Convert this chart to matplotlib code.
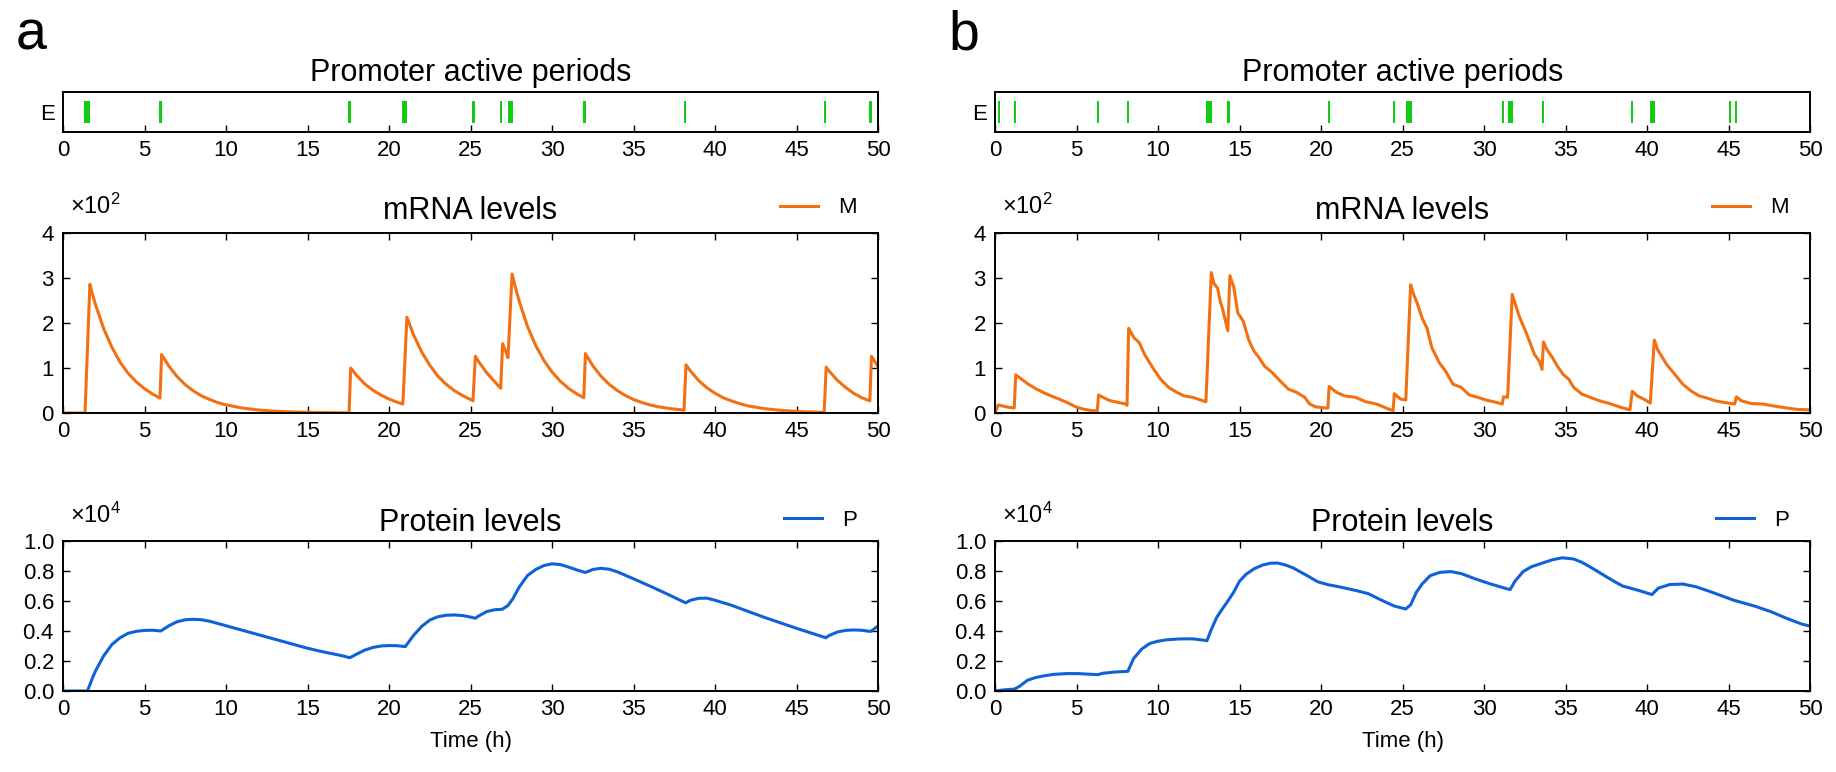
import numpy as np
import matplotlib
matplotlib.use("Agg")
import matplotlib.pyplot as plt
from matplotlib.ticker import ScalarFormatter

plt.rcParams['font.family'] = ['Liberation Sans', 'DejaVu Sans']
plt.rcParams['mathtext.fontset'] = 'custom'
plt.rcParams['mathtext.rm'] = 'Liberation Sans'
plt.rcParams['mathtext.default'] = 'regular'

# ---------------- data ----------------
# promoter active periods (start, end) in hours
prom_a_start = [1.30, 5.90, 17.50, 20.80, 25.12, 26.80, 27.28, 31.92, 38.07, 46.67, 49.47]
prom_a_end   = [1.67, 6.05, 17.65, 21.10, 25.30, 26.95, 27.58, 32.07, 38.22, 46.82, 49.62]
prom_b_start = [0.20, 1.18, 6.28, 8.08, 12.94, 14.25, 20.43, 24.44, 25.20, 31.12, 31.47, 33.57, 39.02, 40.20, 45.04, 45.40]
prom_b_end   = [0.33, 1.31, 6.41, 8.22, 13.33, 14.40, 20.56, 24.57, 25.60, 31.25, 31.80, 33.70, 39.15, 40.50, 45.17, 45.53]

# mRNA levels (x10^2)
t_mrna_a = [0, 1.35, 1.65, 1.8, 2.0, 2.5, 3.0, 3.5, 4.0, 4.5, 5.0, 5.5, 5.95,
            6.05, 6.5, 7.0, 7.5, 8.0, 8.5, 9.0, 9.5, 10.0, 11.0, 12.0, 13.0, 14.0, 15.0, 16.0, 17.0, 17.55,
            17.65, 18.0, 18.5, 19.0, 19.5, 20.0, 20.5, 20.85,
            21.1, 21.5, 22.0, 22.5, 23.0, 23.5, 24.0, 24.5, 25.0, 25.15,
            25.3, 25.5, 26.0, 26.5, 26.85,
            26.97, 27.15, 27.3,
            27.55, 27.75, 28.0, 28.5, 29.0, 29.5, 30.0, 30.5, 31.0, 31.5, 31.95,
            32.05, 32.5, 33.0, 33.5, 34.0, 34.5, 35.0, 35.5, 36.0, 36.5, 37.0, 37.5, 38.1,
            38.22, 38.5, 39.0, 39.5, 40.0, 40.5, 41.0, 41.5, 42.0, 43.0, 44.0, 45.0, 46.0, 46.7,
            46.82, 47.0, 47.5, 48.0, 48.5, 49.0, 49.5,
            49.6, 50.0]
mrna_a = [0, 0, 2.86, 2.65, 2.40, 1.87, 1.46, 1.13, 0.88, 0.69, 0.54, 0.42, 0.33,
          1.30, 1.04, 0.81, 0.63, 0.49, 0.38, 0.30, 0.23, 0.18, 0.11, 0.066, 0.040, 0.024, 0.015, 0.009, 0.005, 0.004,
          1.00, 0.84, 0.65, 0.51, 0.40, 0.31, 0.24, 0.20,
          2.13, 1.74, 1.36, 1.06, 0.82, 0.64, 0.50, 0.39, 0.30, 0.27,
          1.26, 1.14, 0.89, 0.69, 0.55,
          1.54, 1.38, 1.23,
          3.09, 2.80, 2.47, 1.92, 1.50, 1.17, 0.91, 0.71, 0.55, 0.43, 0.34,
          1.32, 1.05, 0.82, 0.64, 0.50, 0.39, 0.30, 0.235, 0.18, 0.14, 0.11, 0.087, 0.064,
          1.07, 0.93, 0.72, 0.56, 0.44, 0.34, 0.27, 0.21, 0.16, 0.098, 0.060, 0.036, 0.022, 0.016,
          1.02, 0.93, 0.73, 0.57, 0.44, 0.34, 0.27,
          1.26, 1.03]

t_mrna_b = [0, 0.2, 0.4, 0.8, 1.18, 1.27, 1.6, 2.0, 2.5, 3.0, 3.5, 4.0, 4.5, 5.0, 5.5, 6.0, 6.28,
            6.35, 6.5, 7.0, 7.5, 8.0, 8.1,
            8.2, 8.53, 8.86, 9.18, 9.67, 10.16, 10.65, 11.14, 11.6, 12.1, 12.6, 12.94,
            13.27, 13.43, 13.66, 13.8, 14.0, 14.28,
            14.41, 14.64, 14.9, 15.23, 15.56, 15.88, 16.2, 16.54, 17.0, 17.5, 18.0, 18.5, 19.0, 19.3, 19.65, 20.3, 20.42,
            20.5, 20.95, 21.44, 22.1, 22.75, 23.4, 23.9, 24.42,
            24.5, 24.87, 25.2,
            25.5, 25.7, 25.9, 26.2, 26.5, 26.8, 27.25, 27.64, 28.1, 28.6, 29.1, 29.6, 30.1, 30.6, 31.12,
            31.2, 31.45,
            31.73, 31.9, 32.2, 32.55, 32.9, 33.1, 33.4, 33.56,
            33.65, 33.86, 34.2, 34.5, 34.85, 35.2, 35.5, 36.0, 36.5, 37.1, 37.8, 38.4, 38.95,
            39.1, 39.4, 39.9, 40.2,
            40.45, 40.65, 40.9, 41.2, 41.7, 42.2, 42.7, 43.2, 43.7, 44.2, 44.65, 45.38,
            45.48, 45.8, 46.4, 47.1, 47.7, 48.6, 49.2, 50.0]
mrna_b = [0, 0.18, 0.16, 0.13, 0.11, 0.85, 0.76, 0.65, 0.54, 0.45, 0.37, 0.30, 0.22, 0.13, 0.08, 0.05, 0.05,
          0.40, 0.37, 0.28, 0.24, 0.20, 0.17,
          1.88, 1.67, 1.56, 1.30, 1.01, 0.75, 0.57, 0.46, 0.38, 0.35, 0.29, 0.25,
          3.12, 2.88, 2.77, 2.51, 2.26, 1.83,
          3.05, 2.81, 2.22, 2.04, 1.63, 1.38, 1.23, 1.04, 0.90, 0.71, 0.53, 0.46, 0.35, 0.20, 0.14, 0.11, 0.11,
          0.59, 0.46, 0.38, 0.35, 0.25, 0.20, 0.125, 0.05,
          0.43, 0.31, 0.29,
          2.85, 2.62, 2.44, 2.11, 1.89, 1.45, 1.12, 0.93, 0.64, 0.57, 0.40, 0.35, 0.29, 0.25, 0.20,
          0.36, 0.35,
          2.64, 2.44, 2.11, 1.82, 1.49, 1.30, 1.15, 0.97,
          1.58, 1.41, 1.23, 1.04, 0.86, 0.75, 0.57, 0.42, 0.35, 0.27, 0.20, 0.125, 0.07,
          0.48, 0.38, 0.29, 0.22,
          1.62, 1.41, 1.26, 1.08, 0.86, 0.64, 0.49, 0.38, 0.33, 0.27, 0.24, 0.20,
          0.36, 0.27, 0.21, 0.20, 0.16, 0.11, 0.08, 0.07]

# Protein levels (x10^4)
t_prot_a = [0, 1.5, 1.8, 2.0, 2.5, 3.0, 3.5, 4.0, 4.5, 5.0, 5.5,
            6.0, 6.5, 7.0, 7.5, 8.0, 8.5, 9.0, 10, 11, 12,
            13, 14, 15, 16, 17, 17.6, 18.0, 18.5, 19.0, 19.5,
            20.0, 20.5, 21.0, 21.5, 22.0, 22.5, 23.0, 23.5, 24.0, 24.5,
            25.0, 25.3, 25.5, 26.0, 26.5, 26.95, 27.3, 27.6, 28.0, 28.5,
            29.0, 29.5, 30.0, 30.5, 31.0, 31.5, 32.05, 32.5, 33.0, 33.5,
            34.0, 35, 36, 37, 38, 38.2, 38.5, 39.0, 39.5, 40.0,
            41, 42, 43, 44, 45, 46, 46.8, 47.0, 47.5, 48.0,
            48.5, 49.0, 49.55, 50.0]
prot_a = [0, 0, 0.085, 0.135, 0.235, 0.31, 0.355, 0.385, 0.398, 0.404, 0.405,
          0.40, 0.435, 0.462, 0.475, 0.478, 0.475, 0.465, 0.435, 0.405, 0.375,
          0.345, 0.315, 0.285, 0.26, 0.238, 0.222, 0.245, 0.272, 0.29, 0.30,
          0.303, 0.302, 0.296, 0.37, 0.43, 0.473, 0.495, 0.505, 0.507, 0.503,
          0.493, 0.485, 0.50, 0.53, 0.542, 0.545, 0.57, 0.615, 0.695, 0.77,
          0.81, 0.836, 0.848, 0.843, 0.827, 0.808, 0.79, 0.81, 0.818, 0.812,
          0.795, 0.748, 0.70, 0.65, 0.598, 0.588, 0.605, 0.618, 0.619, 0.605,
          0.572, 0.532, 0.492, 0.455, 0.418, 0.383, 0.355, 0.37, 0.393, 0.404,
          0.407, 0.405, 0.397, 0.433]

t_prot_b = [0, 0.5, 1.2, 1.5, 2.0, 2.5, 3.0, 3.6, 4.4, 5.1,
            5.75, 6.3, 6.6, 7.4, 8.15, 8.5, 9.0, 9.5, 10.0, 10.5,
            11.3, 12.1, 12.8, 13.0, 13.27, 13.6, 13.9, 14.25, 14.64, 15.0,
            15.4, 15.9, 16.4, 16.9, 17.35, 17.85, 18.3, 19.15, 19.8, 20.46,
            21.1, 22.1, 22.9, 23.7, 24.5, 25.2, 25.5, 25.85, 26.2, 26.7,
            27.3, 27.97, 28.6, 29.4, 30.3, 31.1, 31.6, 31.9, 32.4, 32.9,
            33.5, 34.2, 34.8, 35.5, 36.0, 36.5, 37.0, 37.5, 38.0, 38.5,
            39.0, 39.5, 40.3, 40.7, 41.4, 42.2, 43.0, 44.0, 45.3, 46.6,
            47.6, 48.6, 49.5, 50.0]
prot_b = [0, 0.007, 0.013, 0.031, 0.072, 0.09, 0.101, 0.111, 0.116, 0.116,
          0.112, 0.109, 0.118, 0.127, 0.131, 0.216, 0.28, 0.317, 0.332, 0.341,
          0.347, 0.348, 0.339, 0.335, 0.41, 0.49, 0.54, 0.594, 0.658, 0.732,
          0.778, 0.815, 0.839, 0.852, 0.853, 0.839, 0.82, 0.769, 0.728, 0.708,
          0.695, 0.671, 0.649, 0.606, 0.566, 0.547, 0.575, 0.658, 0.713, 0.769,
          0.791, 0.796, 0.783, 0.75, 0.717, 0.691, 0.676, 0.732, 0.796, 0.828,
          0.85, 0.875, 0.888, 0.88, 0.858, 0.828, 0.795, 0.762, 0.73, 0.70,
          0.685, 0.67, 0.643, 0.686, 0.71, 0.713, 0.695, 0.658, 0.606, 0.566,
          0.529, 0.483, 0.446, 0.433]

xticks = [0, 5, 10, 15, 20, 25, 30, 35, 40, 45, 50]
promoter_label = 'E'
titles = ['Promoter active periods', 'mRNA levels', 'Protein levels']
xlabel = 'Time (h)'
panel_letters = ['a', 'b']

GREEN = '#11cc11'
ORANGE = '#f27012'
BLUE = '#0f62d6'

# ---------------- figure ----------------
W, H = 1836, 772
fig = plt.figure(figsize=(W / 100, H / 100), dpi=100)

def frac(left, top, right, bottom):
    return [left / W, 1 - bottom / H, (right - left) / W, (bottom - top) / H]

cols = [(63, 878), (995, 1810)]
TICK_FS = 16
TITLE_FS = 22
OFF_FS = 17

def style(ax, all_sides=True):
    for s in ax.spines.values():
        s.set_linewidth(1.4)
    ax.tick_params(direction='in', labelsize=TICK_FS, length=5, width=1,
                   top=all_sides, right=all_sides, pad=6)

data = [
    (prom_a_start, prom_a_end, t_mrna_a, mrna_a, t_prot_a, prot_a),
    (prom_b_start, prom_b_end, t_mrna_b, mrna_b, t_prot_b, prot_b),
]

sci_axes = []
for (l, r), letter, (ps, pe, tm, mv, tp, pv) in zip(cols, panel_letters, data):
    # promoter
    ax0 = fig.add_axes(frac(l, 92, r, 132))
    ax0.broken_barh([(s, e - s) for s, e in zip(ps, pe)], (-0.55, 1.1),
                    facecolors=GREEN, edgecolor='none')
    ax0.set_xlim(0, 50)
    ax0.set_ylim(-1, 1)
    ax0.set_yticks([0])
    ax0.set_yticklabels([promoter_label])
    ax0.set_xticks(xticks)
    style(ax0, all_sides=False)
    ax0.tick_params(axis='y', length=0)
    ax0.set_title(titles[0], fontsize=TITLE_FS, pad=8)

    # mRNA
    ax1 = fig.add_axes(frac(l, 233, r, 413))
    ax1.plot(tm, np.array(mv) * 1e2, color=ORANGE, lw=2.2, label='M')
    ax1.set_xlim(0, 50)
    ax1.set_ylim(0, 400)
    ax1.set_yticks([0, 100, 200, 300, 400])
    ax1.set_xticks(xticks)
    ax1.yaxis.set_major_formatter(ScalarFormatter(useMathText=True))
    ax1.ticklabel_format(axis='y', style='sci', scilimits=(0, 0), useMathText=True)
    style(ax1)
    ax1.set_title(titles[1], fontsize=TITLE_FS, pad=10)
    ax1.legend(loc='center right', bbox_to_anchor=(0.985, 1.14), frameon=False,
               fontsize=TICK_FS, handlelength=1.7, handletextpad=0.9, borderaxespad=0)
    sci_axes.append((ax1, 1.105))

    # Protein
    ax2 = fig.add_axes(frac(l, 541, r, 691))
    ax2.plot(tp, np.array(pv) * 1e4, color=BLUE, lw=2.2, label='P')
    ax2.set_xlim(0, 50)
    ax2.set_ylim(0, 10000)
    ax2.set_yticks([0, 2000, 4000, 6000, 8000, 10000])
    ax2.set_xticks(xticks)
    ax2.yaxis.set_major_formatter(ScalarFormatter(useMathText=True))
    ax2.ticklabel_format(axis='y', style='sci', scilimits=(0, 0), useMathText=True)
    style(ax2)
    ax2.set_title(titles[2], fontsize=TITLE_FS, pad=7)
    ax2.set_xlabel(xlabel, fontsize=TICK_FS, labelpad=8)
    ax2.legend(loc='center right', bbox_to_anchor=(0.985, 1.135), frameon=False,
               fontsize=TICK_FS, handlelength=1.7, handletextpad=0.9, borderaxespad=0)
    sci_axes.append((ax2, 1.12))

    fig.text((l - 47) / W, 1 - 49 / H, letter, fontsize=40, va='baseline', ha='left')

# move the scientific multiplier (computed by the formatter) a bit higher, as in the reference
fig.canvas.draw()
for ax, ypos in sci_axes:
    off = ax.yaxis.get_major_formatter().get_offset()
    ax.yaxis.offsetText.set_visible(False)
    ax.text(0.008, ypos, off, transform=ax.transAxes, fontsize=OFF_FS,
            ha='left', va='baseline')

fig.savefig('out.png', dpi=100)
